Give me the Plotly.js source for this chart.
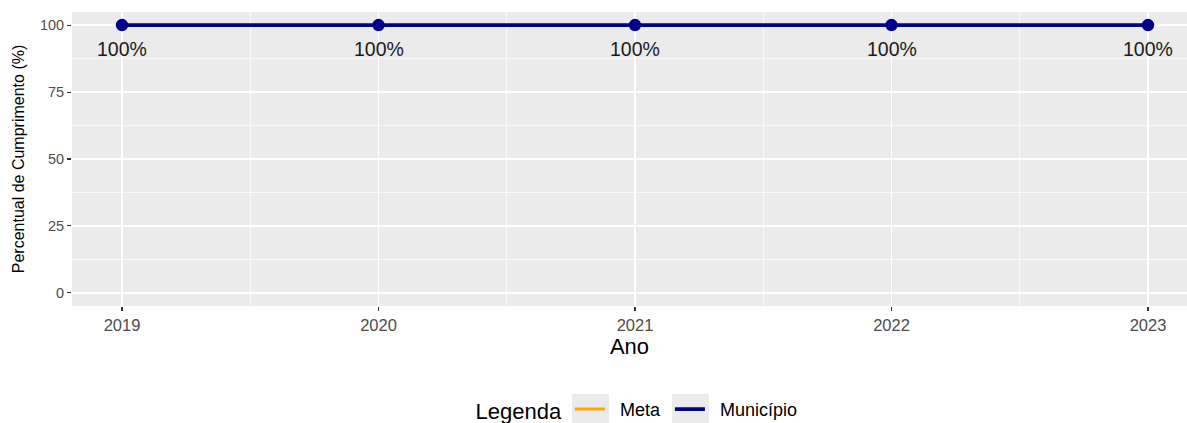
<!DOCTYPE html>
<html>
<head>
<meta charset="utf-8">
<script src="https://cdn.plot.ly/plotly-3.0.1.min.js"></script>
<style>html,body{margin:0;padding:0;background:#fff;}#chart{width:1187px;height:423px;}</style>
</head>
<body>
<div id="chart"></div>
<script>
const anos = [2019, 2020, 2021, 2022, 2023];
const municipio = [100, 100, 100, 100, 100];
const meta = [null, null, null, null, null];
const rotulos = municipio.map(v => v + '%');
const nomes = ['Meta', 'Município'];

const FONT = 'Liberation Sans, Arial, Helvetica, sans-serif';
const GAP = '\u00a0\u00a0';

const traces = [
  {
    x: anos, y: meta, name: GAP + nomes[0] + '\u00a0', type: 'scatter', mode: 'lines',
    line: {color: '#FFA500', width: 3}, showlegend: true, hoverinfo: 'skip'
  },
  {
    x: anos, y: municipio, name: GAP + nomes[1], type: 'scatter', mode: 'lines',
    line: {color: '#00008B', width: 3.8}, showlegend: true
  },
  {
    x: anos, y: municipio, name: nomes[1], type: 'scatter', mode: 'markers',
    marker: {color: '#00008B', size: 12.5}, showlegend: false, cliponaxis: false
  }
];

const annotations = anos.map((a, i) => ({
  x: a, y: municipio[i], xref: 'x', yref: 'y',
  text: rotulos[i], showarrow: false, yshift: -24,
  font: {family: FONT, size: 19.5, color: '#1a1a1a'}
}));

function px2x(p) { return (p - 72) / 1115; }
function px2y(p) { return (306 - p) / 294; }
const keyBoxes = [[572, 609], [672, 709]].map(b => ({
  type: 'rect', xref: 'paper', yref: 'paper',
  x0: px2x(b[0]), x1: px2x(b[1]), y0: px2y(424), y1: px2y(394),
  fillcolor: '#ebebeb', line: {width: 0}, layer: 'below'
}));

const layout = {
  width: 1187, height: 423,
  margin: {l: 72, r: 0, t: 12, b: 117, autoexpand: false},
  paper_bgcolor: '#ffffff',
  plot_bgcolor: '#ebebeb',
  font: {family: FONT, color: '#4d4d4d'},
  xaxis: {
    range: [2018.805, 2023.152],
    tickmode: 'array', tickvals: anos, ticktext: anos.map(String),
    showgrid: true, gridcolor: '#ffffff', gridwidth: 1.4,
    minor: {dtick: 0.5, tick0: 2019, showgrid: true, gridcolor: '#ffffff', gridwidth: 0.7, ticks: ''},
    zeroline: false, showline: false,
    ticks: 'outside', ticklen: 4, tickwidth: 1.1, tickcolor: '#333333',
    tickfont: {family: FONT, size: 16.5, color: '#4d4d4d'},
    title: {text: 'Ano', font: {family: FONT, size: 22, color: '#000000'}, standoff: 4}
  },
  yaxis: {
    range: [-4.9, 104.9],
    tickmode: 'array', tickvals: [0, 25, 50, 75, 100],
    showgrid: true, gridcolor: '#ffffff', gridwidth: 1.4,
    minor: {dtick: 12.5, tick0: 0, showgrid: true, gridcolor: '#ffffff', gridwidth: 0.7, ticks: ''},
    zeroline: false, showline: false,
    ticks: 'outside', ticklen: 4, tickwidth: 1.1, tickcolor: '#333333',
    tickfont: {family: FONT, size: 14.5, color: '#4d4d4d'},
    title: {text: 'Percentual de Cumprimento (%)', font: {family: FONT, size: 16, color: '#000000'}, standoff: 11}
  },
  annotations: annotations,
  shapes: keyBoxes,
  showlegend: true,
  legend: {
    orientation: 'h', x: 0.5076, xanchor: 'center', y: -0.355, yanchor: 'middle',
    title: {text: 'Legenda', font: {family: FONT, size: 22, color: '#000000'}, side: 'left'},
    font: {family: FONT, size: 18, color: '#000000'},
    bgcolor: 'rgba(0,0,0,0)', itemwidth: 30, traceorder: 'normal'
  }
};

Plotly.newPlot('chart', traces, layout, {displayModeBar: false, staticPlot: true});
</script>
</body>
</html>
